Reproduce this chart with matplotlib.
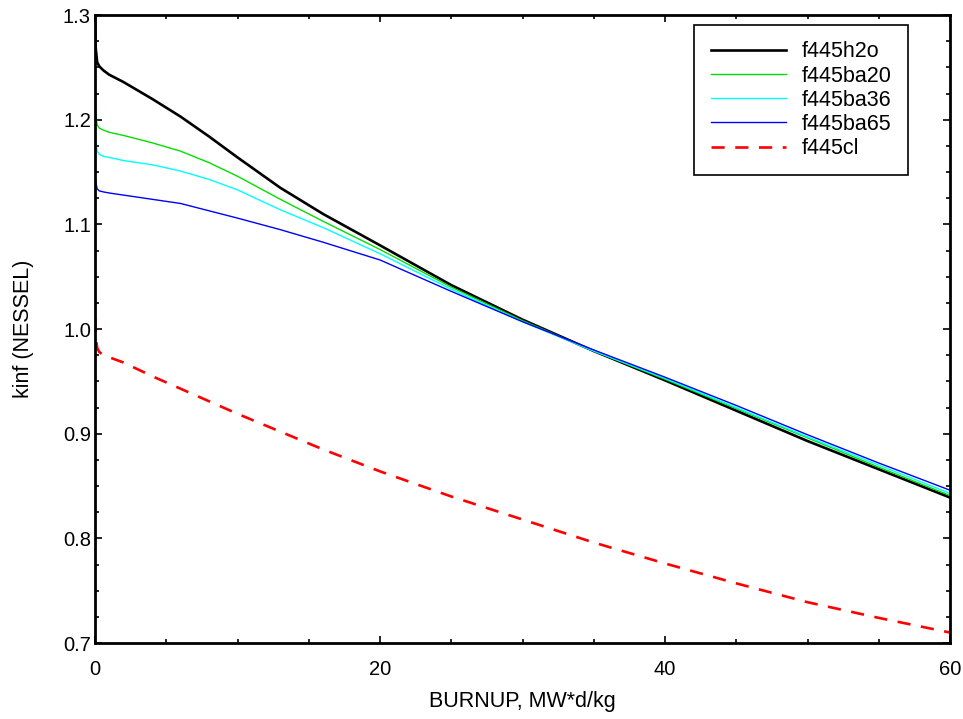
import matplotlib
matplotlib.use('Agg')
import matplotlib.pyplot as plt
from matplotlib.ticker import MultipleLocator

plt.rcParams['font.family'] = ['Liberation Sans', 'DejaVu Sans']

# burnup grid, MW*d/kg
burnup = [0, 0.05, 0.15, 0.3, 0.6, 1, 2, 4, 6, 8, 10, 13, 16, 20,
          25, 30, 35, 40, 45, 50, 55, 60]

kinf_h2o = [1.300, 1.268, 1.255, 1.251, 1.247, 1.243, 1.236, 1.220, 1.203,
            1.184, 1.164, 1.135, 1.110, 1.080, 1.042, 1.009, 0.979, 0.951,
            0.922, 0.893, 0.866, 0.839]
kinf_ba20 = [1.232, 1.205, 1.195, 1.192, 1.190, 1.188, 1.185, 1.178, 1.170,
             1.159, 1.146, 1.124, 1.103, 1.076, 1.040, 1.008, 0.979, 0.952,
             0.924, 0.896, 0.868, 0.841]
kinf_ba36 = [1.195, 1.178, 1.170, 1.167, 1.165, 1.164, 1.161, 1.157, 1.151,
             1.143, 1.133, 1.114, 1.097, 1.072, 1.038, 1.007, 0.979, 0.953,
             0.925, 0.897, 0.870, 0.843]
kinf_ba65 = [1.150, 1.140, 1.134, 1.132, 1.131, 1.130, 1.128, 1.124, 1.120,
             1.113, 1.106, 1.095, 1.083, 1.066, 1.036, 1.007, 0.980, 0.954,
             0.927, 0.899, 0.872, 0.846]
kinf_cl = [1.010, 0.992, 0.982, 0.978, 0.975, 0.973, 0.968, 0.955, 0.943,
           0.931, 0.919, 0.902, 0.885, 0.864, 0.840, 0.818, 0.796, 0.776,
           0.757, 0.739, 0.724, 0.710]

fig = plt.figure(figsize=(9.63, 7.19), dpi=100)
ax = fig.add_axes([0.0987, 0.1057, 0.8878, 0.8733])

ax.plot(burnup, kinf_h2o, color='black', lw=1.9, label='f445h2o')
ax.plot(burnup, kinf_ba20, color='#00e000', lw=1.0, label='f445ba20')
ax.plot(burnup, kinf_ba36, color='#00ffff', lw=1.0, label='f445ba36')
ax.plot(burnup, kinf_ba65, color='#0000ff', lw=1.0, label='f445ba65')
ax.plot(burnup, kinf_cl, color='#ff0000', lw=1.9, dashes=(5, 4), label='f445cl')

ax.set_xlim(0, 60)
ax.set_ylim(0.7, 1.3)
ax.xaxis.set_major_locator(MultipleLocator(20))
ax.xaxis.set_minor_locator(MultipleLocator(5))
ax.yaxis.set_major_locator(MultipleLocator(0.1))
ax.yaxis.set_minor_locator(MultipleLocator(0.025))
ax.tick_params(which='both', direction='in', top=True, right=True,
               labelsize=14.5, width=1.2)
ax.tick_params(which='major', length=5)
ax.tick_params(which='minor', length=3)
ax.tick_params(axis='x', which='major', pad=12)
ax.tick_params(axis='y', which='major', pad=3)
for s in ax.spines.values():
    s.set_linewidth(2)

ax.set_xlabel('BURNUP, MW*d/kg', fontsize=15.5)
ax.set_ylabel('kinf (NESSEL)', fontsize=15.5)
ax.xaxis.set_label_coords(0.5, -0.076)
ax.yaxis.set_label_coords(-0.071, 0.5)

leg = ax.legend(loc='upper right', bbox_to_anchor=(0.951, 0.984),
                fontsize=15.5, handlelength=3.5, fancybox=False,
                framealpha=1, edgecolor='black', borderpad=0.75,
                labelspacing=0.15, handletextpad=0.75, borderaxespad=0)
leg.get_frame().set_linewidth(1.2)

fig.savefig('out.png', dpi=100)
